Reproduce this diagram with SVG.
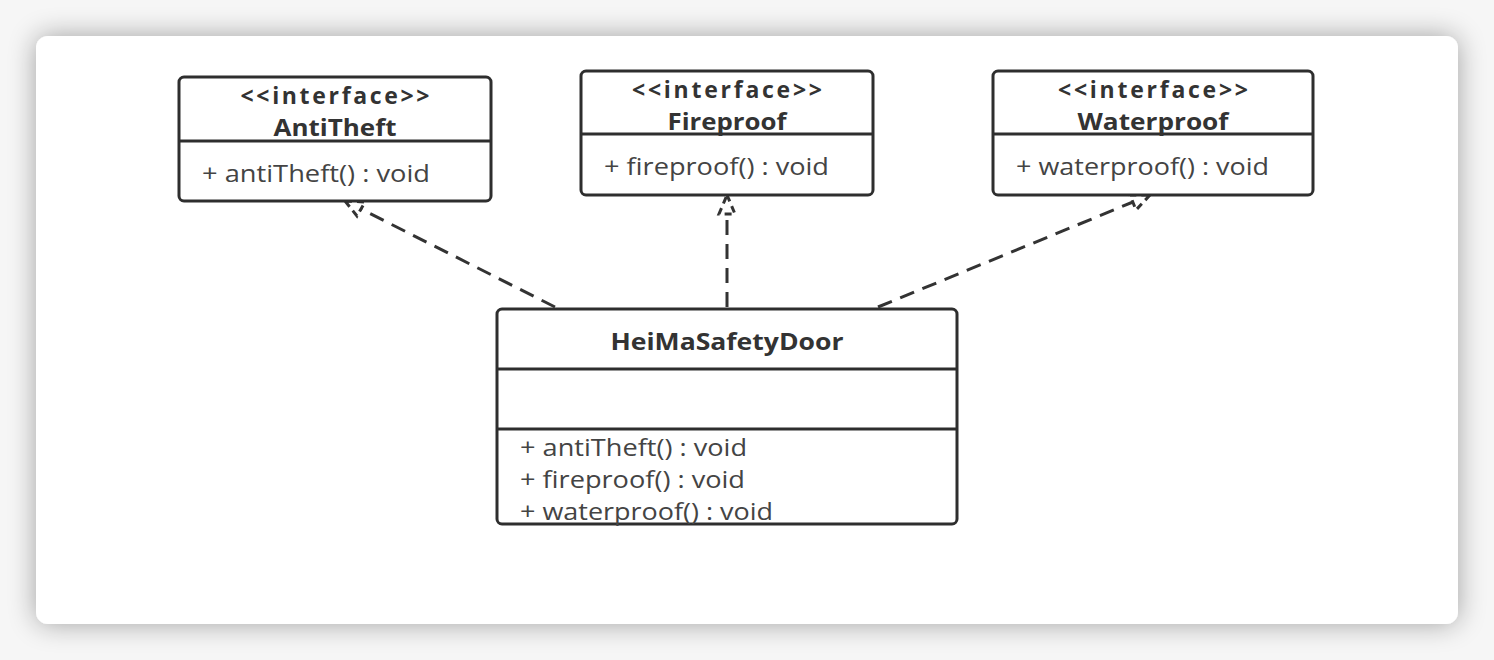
<svg xmlns="http://www.w3.org/2000/svg" width="1494" height="660" viewBox="0 0 1494 660">
<defs>
<filter id="sh" x="-10%" y="-10%" width="120%" height="120%">
<feGaussianBlur in="SourceAlpha" stdDeviation="14"/>
<feComponentTransfer><feFuncA type="linear" slope="0.35"/></feComponentTransfer>
<feMerge><feMergeNode/><feMergeNode in="SourceGraphic"/></feMerge>
</filter>
<style>
.box{fill:#fff;stroke:#2e2e2e;stroke-width:3}
.div{stroke:#2e2e2e;stroke-width:3}
.st{font-family:"Open Sans","Noto Sans",sans-serif;font-weight:bold;font-size:23px;fill:#333;text-anchor:middle}
.nm{font-family:"Open Sans","Noto Sans",sans-serif;font-weight:bold;font-size:24px;fill:#333;text-anchor:middle}
.m{font-family:"Open Sans","Noto Sans",sans-serif;font-size:23px;fill:#444}
.c{fill:none;stroke:#333;stroke-width:3;stroke-dasharray:15 9}
.h{fill:none;stroke:#333;stroke-width:3;stroke-dasharray:7 5}
</style>
</defs>
<rect x="0" y="0" width="1494" height="660" fill="#f6f6f6"/>
<rect x="36" y="36" width="1422" height="588" rx="12" fill="#fff" filter="url(#sh)"/>
<g id="connectors">
<path class="c" d="M555 307 L361 209"/>
<path class="h" d="M345 201 L365 202 L357 216 Z"/>
<path class="c" d="M727 307 L727 214"/>
<path class="h" d="M727 195 L735 214 L719 214 Z"/>
<path class="c" d="M878 307 L1133 202"/>
<path class="h" d="M1150 195 L1136 210 L1130 195 Z"/>
</g>
<g id="AntiTheft">
<rect class="box" x="179" y="77" width="312" height="124" rx="5"/>
<line class="div" x1="179" y1="141" x2="491" y2="141"/>
<text class="st" x="335" y="104" textLength="189" lengthAdjust="spacing">&lt;&lt;interface&gt;&gt;</text>
<text class="nm" x="335" y="136" textLength="123" lengthAdjust="spacingAndGlyphs">AntiTheft</text>
<text class="m" x="202" y="182" textLength="228" lengthAdjust="spacingAndGlyphs">+ antiTheft() : void</text>
</g>
<g id="Fireproof">
<rect class="box" x="581" y="71" width="292" height="124" rx="5"/>
<line class="div" x1="581" y1="134" x2="873" y2="134"/>
<text class="st" x="727" y="98" textLength="190" lengthAdjust="spacing">&lt;&lt;interface&gt;&gt;</text>
<text class="nm" x="727" y="130" textLength="119" lengthAdjust="spacingAndGlyphs">Fireproof</text>
<text class="m" x="604" y="175" textLength="225" lengthAdjust="spacingAndGlyphs">+ fireproof() : void</text>
</g>
<g id="Waterproof">
<rect class="box" x="993" y="71" width="320" height="124" rx="5"/>
<line class="div" x1="993" y1="134" x2="1313" y2="134"/>
<text class="st" x="1153" y="98" textLength="190" lengthAdjust="spacing">&lt;&lt;interface&gt;&gt;</text>
<text class="nm" x="1153" y="130" textLength="151" lengthAdjust="spacingAndGlyphs">Waterproof</text>
<text class="m" x="1016" y="175" textLength="253" lengthAdjust="spacingAndGlyphs">+ waterproof() : void</text>
</g>
<g id="HeiMaSafetyDoor">
<rect class="box" x="497" y="309" width="460" height="215" rx="5"/>
<line class="div" x1="497" y1="369" x2="957" y2="369"/>
<line class="div" x1="497" y1="429" x2="957" y2="429"/>
<text class="nm" x="727" y="350" textLength="233" lengthAdjust="spacingAndGlyphs">HeiMaSafetyDoor</text>
<text class="m" x="520" y="456" textLength="227" lengthAdjust="spacingAndGlyphs">+ antiTheft() : void</text>
<text class="m" x="520" y="488" textLength="225" lengthAdjust="spacingAndGlyphs">+ fireproof() : void</text>
<text class="m" x="520" y="520" textLength="253" lengthAdjust="spacingAndGlyphs">+ waterproof() : void</text>
</g>
</svg>
